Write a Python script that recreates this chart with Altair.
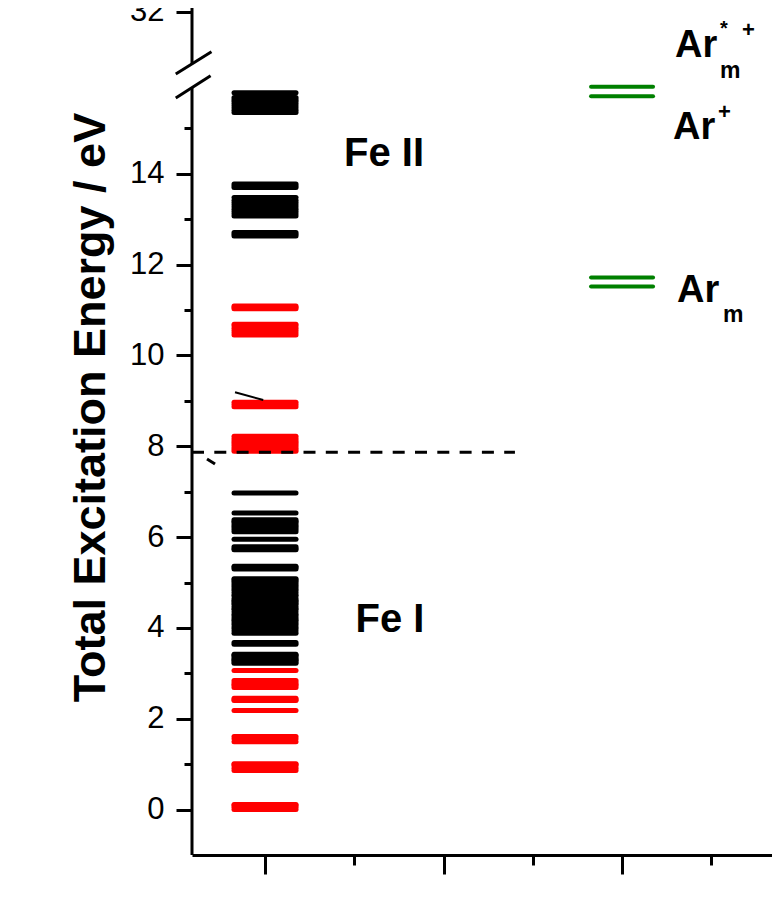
import altair as alt
import pandas as pd

FONT = "Liberation Sans"

# ---- energy levels (eV) ----
fe_red_levels = [0.00, 0.05, 0.09, 0.11,
                 0.86, 0.91, 0.96, 0.99, 1.01,
                 1.49, 1.56, 1.61,
                 2.18,
                 2.40, 2.42, 2.45,
                 2.69, 2.73, 2.76, 2.80, 2.84,
                 3.06,
                 7.89, 7.93, 7.97, 8.01, 8.05, 8.09, 8.13, 8.17, 8.22,
                 8.87, 8.92, 8.97,
                 10.45, 10.50, 10.55, 10.60, 10.65, 10.69,
                 11.03, 11.06, 11.09]
fe_black_levels = [3.22, 3.25, 3.28, 3.30, 3.33, 3.37, 3.40, 3.42,
                   3.64, 3.68,
                   3.88, 3.93, 3.98, 4.02, 4.07, 4.11, 4.15, 4.18, 4.22, 4.26,
                   4.30, 4.35, 4.40, 4.43, 4.47, 4.52, 4.55, 4.58, 4.61, 4.65,
                   4.70, 4.73, 4.78, 4.83, 4.87, 4.91, 4.95, 4.99, 5.03, 5.06, 5.08,
                   5.30, 5.33, 5.36,
                   5.72, 5.75, 5.79,
                   5.95,
                   6.12, 6.16, 6.20, 6.24, 6.28, 6.32, 6.35, 6.38,
                   6.53,
                   6.97,
                   12.63, 12.67, 12.71,
                   13.07, 13.12, 13.17, 13.22, 13.27, 13.32, 13.37, 13.42, 13.48,
                   13.70, 13.74, 13.78,
                   15.35, 15.40, 15.45, 15.50, 15.55, 15.60, 15.64, 15.68,
                   15.79]
ar_levels = [11.52, 11.72, 15.71, 15.92]
fe_ionization = 7.87

# columns (x categories) and bar half width
fe_column = 1.0
ar_column = 3.0
half_width = 0.1737

# axis ranges
X0, X1 = 0.591, 3.840
Y0, Y1 = -1.002, 17.654
y_break_low, y_break_high = 15.89, 16.42
y_top_tick = 17.566          # tick labelled "32" on the upper (broken) segment
y_major = [0, 2, 4, 6, 8, 10, 12, 14]
y_minor = [1, 3, 5, 7, 9, 11, 13, 15]
x_ticks = [1, 1.5, 2, 2.5, 3, 3.5]

xs = alt.Scale(domain=[X0, X1], nice=False, zero=False)
ys = alt.Scale(domain=[Y0, Y1], nice=False, zero=False)

levels = pd.DataFrame(
    [{"E": e, "c": "#ff0000", "xl": fe_column - half_width, "xr": fe_column + half_width} for e in fe_red_levels]
    + [{"E": e, "c": "#000000", "xl": fe_column - half_width, "xr": fe_column + half_width} for e in fe_black_levels]
)
ar_df = pd.DataFrame({"E": ar_levels, "xl": ar_column - half_width, "xr": ar_column + half_width})

y_axis = alt.Axis(
    values=sorted(y_major + y_minor) + [y_top_tick],
    labelExpr="datum.value > 17 ? '32' : (datum.value % 2 === 0 ? datum.label : '')",
    domain=False, grid=False, orient="left",
    tickSize=16, tickWidth=3, tickColor="black",
    tickDash={"condition": {"test": "datum.value % 2 !== 0 && datum.value < 17", "value": [8, 40]},
              "value": [16, 0]},
    labelFont=FONT, labelFontSize=31, labelColor="black", labelPadding=12,
    labelOverlap=False, labelFlush=False, labelBound=False,
    title="Total Excitation Energy / eV", titleFont=FONT, titleFontSize=45,
    titleFontWeight="bold", titleColor="black", titleAngle=270,
    titleX=-102, titleY=399, titleAlign="center", titleBaseline="middle",
)
x_axis = alt.Axis(
    values=x_ticks, labels=False, title=None, grid=False, orient="bottom",
    domain=True, domainWidth=3, domainColor="black",
    tickSize=19, tickWidth=3, tickColor="black",
    tickDash={"condition": {"test": "datum.value % 1 !== 0", "value": [10, 40]}, "value": [19, 0]},
)

fe_layer = alt.Chart(levels).mark_rule(strokeWidth=5, strokeCap="round").encode(
    x=alt.X("xl:Q", scale=xs, axis=x_axis),
    x2="xr:Q",
    y=alt.Y("E:Q", scale=ys, axis=y_axis),
    color=alt.Color("c:N", scale=None),
)
ar_layer = alt.Chart(ar_df).mark_rule(strokeWidth=4, strokeCap="round", color="#008000").encode(
    x=alt.X("xl:Q", scale=xs, axis=None), x2="xr:Q",
    y=alt.Y("E:Q", scale=ys, axis=None),
)

ion_df = pd.DataFrame({"E": [fe_ionization], "xl": [X0], "xr": [2.40]})
ion_layer = alt.Chart(ion_df).mark_rule(strokeWidth=3, strokeDash=[12, 10.3], color="black").encode(
    x=alt.X("xl:Q", scale=xs, axis=None), x2="xr:Q",
    y=alt.Y("E:Q", scale=ys, axis=None),
)

# broken y-axis line
yline_df = pd.DataFrame({"x": [X0, X0], "ya": [Y0, y_break_high], "yb": [y_break_low, Y1]})
yline_layer = alt.Chart(yline_df).mark_rule(strokeWidth=3, color="black").encode(
    x=alt.X("x:Q", scale=xs, axis=None),
    y=alt.Y("ya:Q", scale=ys, axis=None), y2="yb:Q",
)

# break slashes and small stray strokes
strokes_df = pd.DataFrame({
    "xa": [0.500, 0.500, 0.675, 0.832],
    "xb": [0.700, 0.695, 0.720, 0.990],
    "ya": [16.20, 15.67, 7.72, 9.19],
    "yb": [16.69, 16.16, 7.61, 9.02],
    "w": [3, 3, 3, 2],
})
strokes_layer = alt.Chart(strokes_df).mark_rule(color="black").encode(
    x=alt.X("xa:Q", scale=xs, axis=None), x2="xb:Q",
    y=alt.Y("ya:Q", scale=ys, axis=None), y2="yb:Q",
    strokeWidth=alt.StrokeWidth("w:Q", scale=None),
)

fe_text = pd.DataFrame({"t": ["Fe II", "Fe I"], "x": [1.667, 1.70], "y": [14.44, 4.17]})
fe_text_layer = alt.Chart(fe_text).mark_text(
    align="center", baseline="middle", font=FONT, fontWeight="bold", fontSize=40, color="black"
).encode(x=alt.X("x:Q", scale=xs, axis=None), y=alt.Y("y:Q", scale=ys, axis=None), text="t:N")

ar_text = pd.DataFrame({
    "t": ["Ar", "m", "*", "+", "Ar", "+", "Ar", "m"],
    "x": [3.297, 3.549, 3.549, 3.672, 3.286, 3.538, 3.308, 3.566],
    "y": [16.82, 16.27, 17.20, 17.17, 15.00, 15.36, 11.42, 10.90],
    "s": [38, 23, 20, 22, 38, 22, 38, 23],
})
ar_text_layer = alt.Chart(ar_text).mark_text(
    align="left", baseline="middle", font=FONT, fontWeight="bold", color="black"
).encode(
    x=alt.X("x:Q", scale=xs, axis=None), y=alt.Y("y:Q", scale=ys, axis=None),
    text="t:N", size=alt.Size("s:Q", scale=None),
)

chart = alt.layer(
    fe_layer, ar_layer, ion_layer, yline_layer, strokes_layer, fe_text_layer, ar_text_layer
).resolve_axis(x="independent", y="independent").properties(
    width=580, height=847,
    autosize=alt.AutoSizeParams(type="none"),
    padding={"left": 184, "top": 0, "right": 0, "bottom": 30},
    background="white",
).configure_view(stroke=None)

chart.save("out.html", embed_options={"renderer": "svg", "actions": False})
